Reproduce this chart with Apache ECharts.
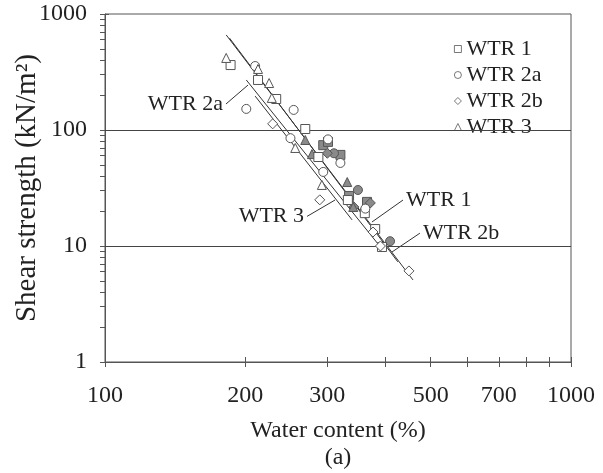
<!DOCTYPE html>
<html>
<head>
<meta charset="utf-8">
<script src="https://cdn.jsdelivr.net/npm/echarts@6.0.0/dist/echarts.min.js"></script>
<style>
  html, body { margin: 0; background: #fff; }
  #chart { width: 603px; height: 473px; }
</style>
</head>
<body>
<div id="chart"></div>
<script>
// axis ticks / labels
const xLabels = [100, 200, 300, 500, 700, 1000];
const xTicks = [100, 200, 300, 400, 500, 600, 700, 800, 900, 1000];
const yLabels = [1, 10, 100, 1000];
const yTicks = [1, 2, 3, 4, 5, 6, 7, 8, 9, 10, 20, 30, 40, 50, 60, 70, 80, 90,
  100, 200, 300, 400, 500, 600, 700, 800, 900, 1000];
const gridLevels = [10, 100];

// open symbols (water content %, shear strength kN/m2)
const wtr1W = [186, 213, 233, 269, 287, 332, 361, 380, 393];
const wtr1S = [363, 270, 185, 102, 58.5, 24.9, 19.2, 14.0, 9.8];
const wtr2aW = [210, 201, 254, 250, 301, 294, 320, 362];
const wtr2aS = [356, 152, 149, 85, 83, 43.5, 52, 21];
const wtr2bW = [229, 289, 376, 390, 449];
const wtr2bS = [113, 25, 13.2, 10, 6.1];
const wtr3W = [182, 213, 225, 228, 256, 292];
const wtr3S = [418, 336, 254, 189, 70, 33.6];

// grey filled symbols
const wtr1fW = [294, 301, 320, 334, 365];
const wtr1fS = [74, 79, 61, 27, 24];
const wtr2afW = [310, 349, 409];
const wtr2afS = [63, 30.4, 11.0];
const wtr2bfW = [300, 342, 371];
const wtr2bfS = [63, 21.7, 23.5];
const wtr3fW = [269, 278, 331, 341];
const wtr3fS = [82, 62, 35.6, 21.7];

// fitted lines: [start, end]
const fit1 = [[185, 620], [425, 7.3]];
const fit2a = [[201, 270], [395, 9.2]];
const fit2b = [[182, 660], [458, 5.1]];
const fit3 = [[210, 196], [339, 16.8]];

// label leaders: [text end, line end]
const lead1 = [[436, 24.9], [374, 16.1]];
const lead2a = [[181.8, 167.5], [202.7, 244]];
const lead2b = [[474, 12.9], [413, 8.88]];
const lead3 = [[271.4, 18.0], [311.6, 24.9]];

const font = 'Liberation Serif';
const fs = 22;
const ink = '#222';
const edge = '#555';

function pts(w, s) { return w.map((v, i) => [v, s[i]]); }

function scatter(name, w, s, symbol, filled) {
  return {
    name: name, type: 'scatter', data: pts(w, s), symbol: symbol,
    symbolSize: symbol === 'diamond' ? 10 : 9, z: filled ? 4 : 5,
    itemStyle: { color: filled ? '#8a8a8a' : '#fff', borderColor: edge, borderWidth: 1, opacity: 1 }
  };
}

function fitLine(f) {
  return {
    type: 'line', data: f, symbol: 'none', silent: true, z: 3,
    lineStyle: { color: '#333', width: 1 }
  };
}

function leader(l, text, pos) {
  return {
    type: 'line', silent: true, z: 3, symbol: 'circle', symbolSize: 0.1, showSymbol: true,
    data: [{ value: l[0], label: { show: true, position: pos, formatter: text, distance: 3,
      fontFamily: font, fontSize: fs, color: ink } }, l[1]],
    lineStyle: { color: '#333', width: 1 },
    itemStyle: { color: '#333' }
  };
}

const plain = v => String(v);

const chart = echarts.init(document.getElementById('chart'));
chart.setOption({
  animation: false,
  grid: {
    left: 105, right: 32, top: 14, bottom: 111, outerBoundsMode: 'none', containLabel: false,
    show: true, borderColor: edge, borderWidth: 1
  },
  legend: {
    data: ['WTR 1', 'WTR 2a', 'WTR 2b', 'WTR 3'],
    orient: 'vertical', left: 449, top: 33, itemWidth: 7, itemHeight: 7, itemGap: 4,
    itemStyle: { borderWidth: 0.8 },
    textStyle: { fontFamily: font, fontSize: fs, color: ink, lineHeight: 21.5 }
  },
  xAxis: [{
    type: 'log', logBase: 10, min: 100, max: 1000,
    name: 'Water content (%)\n(a)', nameLocation: 'middle', nameGap: 55, nameMoveOverlap: false,
    nameTextStyle: { fontFamily: font, fontSize: 24, color: ink, lineHeight: 27 },
    axisLine: { lineStyle: { color: edge } },
    axisTick: { customValues: xTicks, length: 5, lineStyle: { color: edge } },
    axisLabel: { customValues: xLabels, formatter: plain, margin: 22, fontFamily: font, fontSize: 24, color: ink },
    splitLine: { show: false }
  }, {
    type: 'log', logBase: 10, min: 100, max: 1000, position: 'bottom',
    axisLine: { show: false },
    axisTick: { customValues: xTicks, inside: true, length: 5, lineStyle: { color: edge } },
    axisLabel: { show: false }, splitLine: { show: false }
  }],
  yAxis: [{
    type: 'log', logBase: 10, min: 1, max: 1000,
    name: 'Shear strength (kN/m\u00B2)', nameLocation: 'middle', nameGap: 63, nameMoveOverlap: false,
    nameTextStyle: { fontFamily: font, fontSize: 29, color: ink },
    axisLine: { show: true, lineStyle: { color: edge } },
    axisTick: { show: true, customValues: yTicks, length: 5, lineStyle: { color: edge } },
    axisLabel: { customValues: yLabels, formatter: plain, margin: 18, fontFamily: font, fontSize: 24, color: ink },
    splitLine: { show: false }
  }, {
    type: 'log', logBase: 10, min: 1, max: 1000, position: 'left',
    axisLine: { show: false },
    axisTick: { show: true, customValues: yLabels, inside: true, length: 4, lineStyle: { color: edge } },
    axisLabel: { show: false }, splitLine: { show: false }
  }],
  series: [
    {
      type: 'line', data: [], silent: true,
      markLine: {
        silent: true, symbol: 'none', label: { show: false },
        lineStyle: { color: '#444', width: 1, type: 'solid' },
        data: gridLevels.map(v => ({ yAxis: v }))
      }
    },
    fitLine(fit1), fitLine(fit2a), fitLine(fit2b), fitLine(fit3),
    leader(lead2a, 'WTR 2a', 'left'),
    leader(lead3, 'WTR 3', 'left'),
    leader(lead1, 'WTR 1', 'right'),
    leader(lead2b, 'WTR 2b', 'right'),
    scatter('WTR 1 filled', wtr1fW, wtr1fS, 'rect', true),
    scatter('WTR 2a filled', wtr2afW, wtr2afS, 'circle', true),
    scatter('WTR 2b filled', wtr2bfW, wtr2bfS, 'diamond', true),
    scatter('WTR 3 filled', wtr3fW, wtr3fS, 'triangle', true),
    scatter('WTR 1', wtr1W, wtr1S, 'rect', false),
    scatter('WTR 2a', wtr2aW, wtr2aS, 'circle', false),
    scatter('WTR 2b', wtr2bW, wtr2bS, 'diamond', false),
    scatter('WTR 3', wtr3W, wtr3S, 'triangle', false)
  ]
});
</script>
</body>
</html>
